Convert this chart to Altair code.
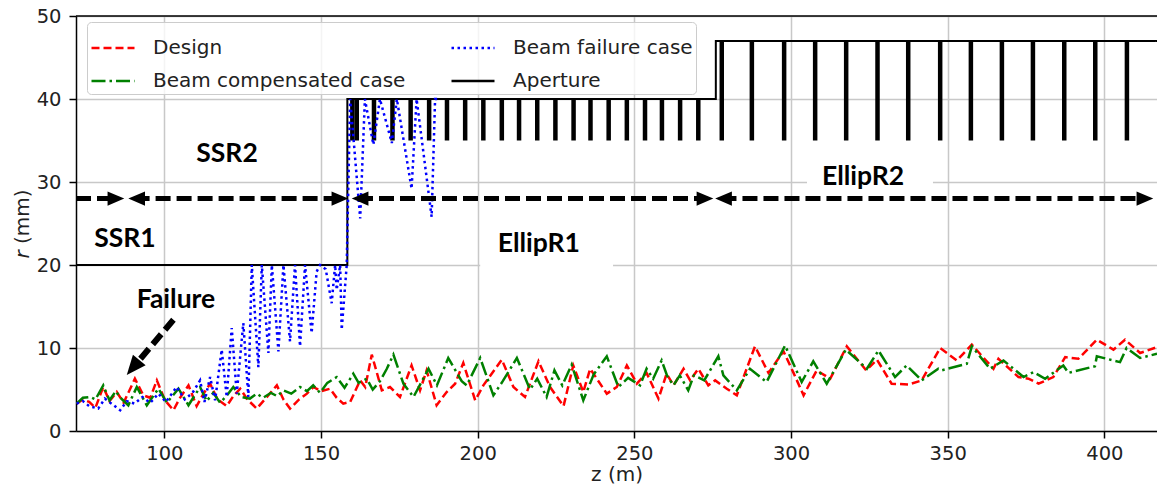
import altair as alt
import pandas as pd

# ---------------- data ----------------
SERIES = ["Design", "Beam compensated case", "Beam failure case", "Aperture"]
COLORS = ["#ff0000", "#008000", "#0000ff", "#000000"]
DASHES = [[8, 4], [14, 4, 2.5, 4], [2.5, 3.5], [1, 0]]

APERTURE = [(71.8, 20), (158.4, 20), (158.4, 40), (276.0, 40), (276.0, 47), (416.8, 47)]

BARS_R1_Z = [160.0, 161.4, 166.9, 172.8, 178.6, 184.5, 190.2, 196.0, 201.8, 207.7, 213.2,
             219.0, 224.8, 230.6, 236.0, 241.8, 247.6, 253.4, 258.8, 264.6, 270.4]
BARS_R2_Z = [277.9, 287.5, 297.8, 307.7, 317.6, 327.6, 337.4, 347.6, 357.4, 367.3, 377.2,
             387.2, 397.1, 407.2]
BAR_BOTTOM = 35.0
BAR_TOP_R1 = 40.0
BAR_TOP_R2 = 47.0

DESIGN = [(72.0, 3.3), (74.0, 3.8), (76.0, 3.5), (78.0, 2.8), (80.5, 5.3), (82.5, 3.6), (84.8, 4.7),
          (87.0, 3.4), (90.6, 6.3), (93.3, 4.3), (95.5, 4.0), (97.6, 6.1), (100.2, 3.7), (102.9, 2.5),
          (105.0, 4.0), (107.7, 5.5), (110.3, 3.0), (112.5, 4.5), (114.6, 5.7), (117.0, 3.8),
          (119.9, 3.0), (122.0, 4.2), (124.2, 5.1), (126.5, 3.8), (129.5, 2.7), (132.5, 4.0),
          (135.9, 5.5), (138.0, 3.8), (140.1, 2.7), (143.0, 3.8), (145.5, 4.5), (147.6, 5.3),
          (150.0, 4.8), (152.9, 5.1), (155.0, 4.0), (157.1, 3.3), (159.3, 3.5), (162.5, 6.1),
          (164.1, 5.3), (166.2, 9.2), (169.4, 4.9), (172.0, 5.3), (175.2, 4.1), (178.9, 7.9),
          (181.6, 4.9), (183.7, 7.3), (186.9, 3.1), (190.1, 4.7), (192.8, 5.7), (195.4, 8.2),
          (199.2, 3.7), (201.8, 5.5), (207.7, 8.6), (211.4, 5.3), (215.1, 4.1), (219.4, 8.4),
          (223.1, 5.3), (227.4, 3.0), (230.5, 7.9), (233.7, 4.7), (235.9, 7.5), (241.2, 4.5),
          (244.4, 5.3), (247.6, 7.9), (250.8, 5.7), (253.9, 7.0), (257.7, 3.9), (260.3, 6.9),
          (262.5, 5.5), (265.7, 7.5), (267.8, 6.1), (270.4, 7.5), (273.6, 5.5), (275.8, 6.1),
          (279.5, 5.1), (282.7, 4.3), (288.5, 10.2), (292.8, 7.0), (297.6, 9.6), (300.8, 7.0),
          (304.0, 4.3), (308.2, 7.3), (312.5, 6.3), (317.8, 10.2), (324.0, 7.3), (327.4, 8.6),
          (332.1, 5.7), (337.5, 5.6), (341.7, 6.1), (347.6, 10.0), (352.9, 8.5), (357.7, 10.4),
          (364.6, 7.5), (366.2, 8.7), (372.6, 6.5), (375.8, 6.3), (379.0, 5.7), (383.7, 6.5),
          (387.5, 8.9), (391.7, 8.7), (397.6, 11.0), (402.9, 9.8), (406.6, 11.0), (411.4, 9.4),
          (416.8, 10.1)]

COMPENSATED = [(72.0, 3.3), (74.0, 4.0), (76.3, 4.1), (78.0, 3.8), (80.5, 5.5), (82.5, 3.7),
               (84.5, 4.8), (86.0, 4.0), (88.5, 3.1), (91.2, 5.3), (94.4, 3.1), (98.1, 5.1),
               (100.8, 3.4), (104.5, 5.1), (107.7, 3.1), (111.4, 5.3), (113.5, 3.6), (115.6, 4.6),
               (117.8, 3.4), (120.0, 4.3), (122.0, 5.3), (124.5, 4.1), (127.3, 3.9), (129.5, 4.5),
               (131.5, 4.0), (134.0, 4.6), (136.0, 4.2), (138.0, 4.9), (140.5, 4.5), (143.3, 5.3),
               (145.5, 4.8), (147.5, 5.5), (149.7, 4.6), (152.0, 5.8), (155.0, 6.5), (157.5, 5.2),
               (160.3, 6.9), (162.0, 5.8), (164.6, 6.3), (166.5, 5.0), (168.8, 6.0), (171.0, 7.5),
               (173.1, 9.2), (176.3, 5.7), (179.5, 4.1), (181.5, 5.5), (184.3, 7.5), (187.0, 5.5),
               (190.6, 8.8), (194.9, 6.0), (196.5, 5.5), (200.8, 8.8), (205.0, 4.3), (208.0, 6.0),
               (212.5, 8.8), (216.7, 5.0), (219.0, 6.3), (222.0, 4.1), (224.5, 7.3), (227.0, 5.5),
               (230.0, 8.0), (233.7, 3.7), (237.0, 6.8), (241.2, 9.0), (244.9, 5.3), (248.0, 6.4),
               (251.8, 5.5), (253.9, 7.5), (256.0, 6.3), (258.7, 8.5), (260.5, 6.6), (262.5, 5.5),
               (264.5, 6.7), (267.2, 4.9), (269.0, 6.7), (272.3, 6.1), (276.8, 9.0), (278.4, 6.7),
               (282.7, 4.9), (286.9, 7.5), (292.2, 5.9), (298.1, 10.3), (303.4, 5.9), (307.1, 8.4),
               (311.4, 5.7), (317.5, 9.8), (324.2, 7.5), (327.9, 9.7), (333.2, 6.5), (336.9, 7.9),
               (341.7, 6.1), (347.0, 7.5), (348.0, 7.3), (356.1, 8.1), (357.7, 10.2), (363.5, 7.5),
               (367.8, 8.5), (374.2, 6.5), (377.4, 7.1), (381.1, 6.3), (386.9, 7.9), (388.5, 7.0),
               (397.0, 7.8), (397.6, 9.0), (405.0, 8.3), (407.1, 10.0), (411.4, 8.8), (416.8, 9.3)]

FAILURE = [(72.0, 3.3), (74.0, 3.6), (76.0, 3.0), (78.9, 2.7), (81.0, 3.9), (83.5, 3.2), (85.9, 2.5),
           (88.0, 3.6), (90.5, 3.3), (93.0, 4.1), (95.5, 3.4), (98.1, 4.5), (100.5, 3.5), (103.9, 5.3),
           (106.5, 3.8), (109.0, 4.6), (111.4, 6.1), (112.8, 3.5), (114.6, 6.5), (116.2, 3.7),
           (118.3, 9.8), (119.9, 4.1), (121.5, 12.4), (123.1, 4.5), (125.2, 13.0), (126.8, 4.1),
           (127.9, 20.0), (130.0, 7.7), (131.1, 20.0), (133.2, 9.4), (134.3, 20.0), (136.4, 9.6),
           (138.0, 20.0), (140.1, 10.8), (141.7, 20.0), (143.3, 10.2), (144.9, 20.0), (147.0, 11.8),
           (148.6, 19.2), (149.7, 20.0), (151.5, 19.5), (153.4, 15.4), (154.5, 20.0), (155.0, 17.0),
           (156.1, 20.0), (156.6, 12.2), (158.2, 20.0), (159.3, 40.0), (162.5, 25.6), (164.0, 40.0),
           (166.7, 34.5), (168.8, 40.0), (172.6, 34.7), (174.2, 40.0), (178.9, 29.2), (180.5, 40.0),
           (185.3, 25.8), (186.4, 40.0), (188.0, 40.0)]

LABELS = ["SSR1", "SSR2", "EllipR1", "EllipR2", "Failure"]
LABEL_Z = [87.4, 120.0, 219.5, 323.0, 103.7]
LABEL_R = [22.2, 32.4, 21.6, 29.6, 14.8]

BOX_Z1 = [200.8, 305.1]
BOX_Z2 = [243.2, 345.3]
BOX_R1 = [19.6, 28.6]
BOX_R2 = [24.8, 32.6]

ARROW_START = [71.8, 88.5, 159.8, 275.8]
ARROW_END = [87.2, 158.7, 275.2, 415.6]
ARROW_R = 28.0
LEFT_HEADS = [88.5, 159.8, 275.8]

FAIL_ARROW_TAIL = (102.9, 13.4)
FAIL_ARROW_TIP = (88.0, 6.75)

XTICKS = [100, 150, 200, 250, 300, 350, 400]
YTICKS = [0, 10, 20, 30, 40, 50]

# ---------------- tables ----------------
rows = []
for name, pts in [("Aperture", APERTURE), ("Design", DESIGN),
                  ("Beam compensated case", COMPENSATED), ("Beam failure case", FAILURE)]:
    for i, (z, r) in enumerate(pts):
        rows.append({"series": name, "z": z, "r": r, "i": i})
lines_df = pd.DataFrame(rows)

bars_df = pd.DataFrame(
    [{"z": z, "r": BAR_TOP_R1, "r2": BAR_BOTTOM} for z in BARS_R1_Z]
    + [{"z": z, "r": BAR_TOP_R2, "r2": BAR_BOTTOM} for z in BARS_R2_Z])

labels_df = pd.DataFrame({"label": LABELS, "z": LABEL_Z, "r": LABEL_R})
boxes_df = pd.DataFrame({"z": BOX_Z1, "z2": BOX_Z2, "r": BOX_R1, "r2": BOX_R2})

gap = 2.0  # arrow shaft stops short of the head tip
arrows_df = pd.DataFrame({
    "z": [s if k == 0 else s + gap for k, s in enumerate(ARROW_START)],
    "z2": [e - gap for e in ARROW_END],
    "r": [ARROW_R] * 4, "r2": [ARROW_R] * 4})
right_heads_df = pd.DataFrame({"z": ARROW_END, "r": [ARROW_R] * len(ARROW_END)})
left_heads_df = pd.DataFrame({"z": LEFT_HEADS, "r": [ARROW_R] * len(LEFT_HEADS)})

tz, tr = FAIL_ARROW_TAIL
hz, hr = FAIL_ARROW_TIP
fail_arrow_df = pd.DataFrame({"z": [tz], "r": [tr],
                              "z2": [hz + (tz - hz) * 0.14], "r2": [hr + (tr - hr) * 0.14]})
fail_head_df = pd.DataFrame({"z": [hz], "r": [hr]})

# ---------------- encodings ----------------
FONT = "DejaVu Sans"
TXT = "#222222"
xscale = alt.Scale(domain=[71.8, 416.8], nice=False, zero=False)
yscale = alt.Scale(domain=[0, 50], nice=False, zero=False)
xaxis = alt.Axis(values=XTICKS, title="z (m)", grid=True, format="d")
yaxis = alt.Axis(values=YTICKS, title=None, grid=True, format="d")
X = alt.X("z:Q", scale=xscale, axis=xaxis)
Y = alt.Y("r:Q", scale=yscale, axis=yaxis)

leg = alt.Legend(
    title=None, orient="none", legendX=11, legendY=6, columns=2, columnPadding=40,
    rowPadding=-7.5, symbolType="stroke", symbolSize=1849, symbolStrokeWidth=2.5,
    labelFont=FONT, labelFontSize=20, labelColor=TXT, labelOffset=17, labelLimit=400,
    padding=3, fillColor="rgba(255,255,255,0.8)", strokeColor="#cccccc", cornerRadius=4,
    labelExpr="datum.label == 'Design' ? '\u00a0Design' : datum.label")
color = alt.Color("series:N", scale=alt.Scale(domain=SERIES, range=COLORS), legend=leg)
dash = alt.StrokeDash("series:N", scale=alt.Scale(domain=SERIES, range=DASHES), legend=leg)


def series_layer(name, width):
    return alt.Chart(lines_df).transform_filter(alt.datum.series == name).mark_line(
        clip=True, strokeWidth=width).encode(x=X, y=Y, color=color, strokeDash=dash,
                                             order=alt.Order("i:Q"))


aperture = series_layer("Aperture", 2.0)
bars = alt.Chart(bars_df).mark_rule(color="black", strokeWidth=4.5, clip=True).encode(
    x=X, y=Y, y2="r2:Q")
red = series_layer("Design", 2.5)
green = series_layer("Beam compensated case", 2.5)
blue = series_layer("Beam failure case", 2.5)

boxes = alt.Chart(boxes_df).mark_rect(color="white").encode(x=X, x2="z2:Q", y=Y, y2="r2:Q")
texts = alt.Chart(labels_df).mark_text(
    font="Lato", fontWeight="bold", fontSize=26.5, color="black", baseline="alphabetic",
    align="center").encode(x=X, y=Y, text="label:N")

arrows = alt.Chart(arrows_df).mark_rule(color="black", strokeWidth=5, strokeDash=[15, 6]).encode(
    x=X, x2="z2:Q", y=Y, y2="r2:Q")
rhead = alt.Chart(right_heads_df).mark_point(
    shape="M0,0L-2,-0.85L-2,0.85Z", filled=True, size=279, color="black", opacity=1,
    strokeWidth=0).encode(x=X, y=Y)
lhead = alt.Chart(left_heads_df).mark_point(
    shape="M0,0L2,-0.85L2,0.85Z", filled=True, size=279, color="black", opacity=1,
    strokeWidth=0).encode(x=X, y=Y)
fail_arrow = alt.Chart(fail_arrow_df).mark_rule(color="black", strokeWidth=6,
                                                strokeDash=[13, 6]).encode(
    x=X, x2="z2:Q", y=Y, y2="r2:Q")
fail_head = alt.Chart(fail_head_df).mark_point(
    shape="M0,0L-0.85,-2L0.85,-2Z", filled=True, size=380, color="black", opacity=1,
    strokeWidth=0, angle=40).encode(x=X, y=Y)

top_spine = alt.Chart(pd.DataFrame({"r": [50]})).mark_rule(color="black", strokeWidth=1.5).encode(
    y=Y)

one = pd.DataFrame({"k": [1]})
ytitle_r = alt.Chart(one).mark_text(
    text="r", font=FONT, fontSize=20, fontStyle="italic", color=TXT, angle=270,
    align="left", baseline="middle").encode(x=alt.value(-53.5), y=alt.value(242.5))
ytitle_mm = alt.Chart(one).mark_text(
    text="(mm)", font=FONT, fontSize=20, color=TXT, angle=270,
    align="left", baseline="middle").encode(x=alt.value(-53.5), y=alt.value(228))

chart = alt.layer(
    boxes, aperture, bars, red, green, blue, texts, arrows, rhead, lhead,
    fail_arrow, fail_head, top_spine, ytitle_r, ytitle_mm
).properties(
    width=1081, height=415,
    padding={"left": 76, "top": 16, "right": 0, "bottom": 56},
    autosize=alt.AutoSizeParams(type="none"),
    background="white",
).configure_view(
    stroke=None
).configure_axis(
    labelFont=FONT, labelFontSize=19.5, labelColor=TXT, titleFont=FONT, titleFontSize=20,
    titleFontWeight="normal", titleColor=TXT, domainColor="black", domainWidth=1.5,
    tickColor="black", tickWidth=1.5, tickSize=7, gridColor="#c8c8c8", gridWidth=1.5,
    labelPadding=6, titlePadding=2
).configure_axisY(labelPadding=8)

chart.save("out.html", embed_options={"renderer": "svg", "actions": False})
